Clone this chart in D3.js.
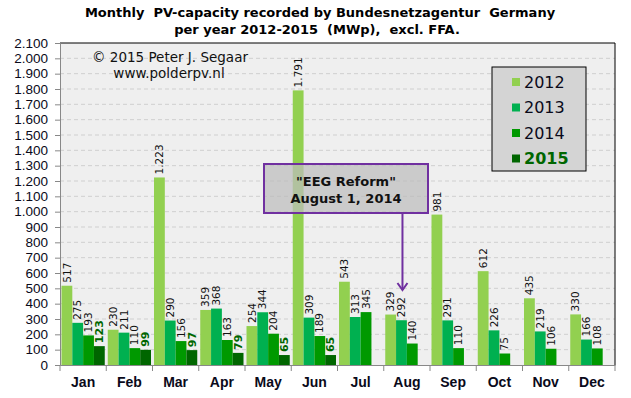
<!DOCTYPE html>
<html>
<head>
<meta charset="utf-8">
<script src="https://cdn.jsdelivr.net/npm/d3@7"></script>
<style>
  body { margin: 0; background: #fff; }
  svg { font-family: "DejaVu Sans", Verdana, sans-serif; }
  .pre { white-space: pre; }
</style>
</head>
<body>
<svg width="631" height="398"></svg>
<script>
// Data
const months = ["Jan", "Feb", "Mar", "Apr", "May", "Jun", "Jul", "Aug", "Sep", "Oct", "Nov", "Dec"]
const years = ["2012", "2013", "2014", "2015"]
const v2012 = [517, 230, 1223, 359, 254, 1791, 543, 329, 981, 612, 435, 330]
const v2013 = [275, 211, 290, 368, 344, 309, 313, 292, 291, 226, 219, 166]
const v2014 = [193, 110, 156, 163, 204, 189, 345, 140, 110, 75, 106, 108]
const v2015 = [123, 99, 97, 79, 65, 65]
const yTicks = d3.range(0, 2101, 100)

const colors = {"2012": "#92d050", "2013": "#00b050", "2014": "#009900", "2015": "#006600"}
const series = {"2012": v2012, "2013": v2013, "2014": v2014, "2015": v2015}

const nl = d3.formatLocale({decimal: ",", thousands: ".", grouping: [3], currency: ["€", ""]})
const fmt = nl.format(",d")

const margin = {left: 60, right: 16, top: 43, bottom: 33}
const W = 631, H = 398
const w = W - margin.left - margin.right
const h = H - margin.top - margin.bottom

const svg = d3.select("svg")

// Title
svg.append("text").attr("class", "pre")
  .attr("x", 320).attr("y", 17)
  .attr("text-anchor", "middle")
  .style("font-weight", "bold").style("font-size", "13px")
  .text("Monthly  PV-capacity recorded by Bundesnetzagentur  Germany")
svg.append("text").attr("class", "pre")
  .attr("x", 317).attr("y", 34)
  .attr("text-anchor", "middle")
  .style("font-weight", "bold").style("font-size", "13px")
  .text("per year 2012-2015  (MWp),  excl. FFA.")

const g = svg.append("g").attr("transform", `translate(${margin.left},${margin.top})`)

const x = d3.scaleBand().domain(months).range([0, w]).paddingInner(0).paddingOuter(0)
const x1 = d3.scaleBand().domain(years).range([1.5, x.bandwidth() - 1.5]).padding(0)
const y = d3.scaleLinear().domain([0, 2100]).range([h, 0])

// Plot background
g.append("rect").attr("width", w).attr("height", h).attr("fill", "#efefef")

// Gridlines
g.selectAll(".grid").data(yTicks.slice(1, -1)).enter().append("line")
  .attr("x1", 0).attr("x2", w)
  .attr("y1", d => y(d)).attr("y2", d => y(d))
  .attr("stroke", "#cfcfcf").attr("stroke-dasharray", "4,3")

// Copyright
g.append("text").attr("x", 110).attr("y", 19).attr("text-anchor", "middle")
  .style("font-size", "13.5px").attr("fill", "#111")
  .text("© 2015 Peter J. Segaar")
g.append("text").attr("x", 109).attr("y", 35).attr("text-anchor", "middle")
  .style("font-size", "13.5px").attr("fill", "#111")
  .text("www.polderpv.nl")

// Bars
const rows = []
years.forEach(yr => {
  series[yr].forEach((v, i) => rows.push({year: yr, month: months[i], value: v}))
})

g.selectAll(".bar").data(rows).enter().append("rect")
  .attr("x", d => x(d.month) + x1(d.year))
  .attr("width", x1.bandwidth())
  .attr("y", d => y(d.value))
  .attr("height", d => h - y(d.value))
  .attr("fill", d => colors[d.year])

// Bar labels
g.selectAll(".lbl").data(rows).enter().append("text")
  .attr("transform", d => `translate(${x(d.month) + x1(d.year) + x1.bandwidth() / 2},${y(d.value) - 3}) rotate(-90)`)
  .attr("dy", "0.35em")
  .attr("text-anchor", "start")
  .style("font-size", d => d.year === "2015" ? "11px" : "10.5px")
  .style("font-weight", d => d.year === "2015" ? "bold" : "normal")
  .attr("fill", d => d.year === "2015" ? "#006600" : "#111")
  .text(d => fmt(d.value))

// Frame top/right
g.append("path").attr("d", `M0,0H${w}V${h}`).attr("fill", "none").attr("stroke", "#000")

// Axes
const yAxis = g.append("g").call(d3.axisLeft(y).tickValues(yTicks).tickFormat(fmt).tickSize(5))
yAxis.select(".domain").attr("stroke", "#888")
yAxis.selectAll(".tick line").attr("stroke", "#888")
yAxis.selectAll("text").style("font-size", "13.5px").attr("fill", "#0a0a1a").attr("x", -12)

const xAxis = g.append("g").attr("transform", `translate(0,${h})`)
  .call(d3.axisBottom(x).tickSize(0).tickPadding(12))
xAxis.select(".domain").attr("stroke", "#888")
xAxis.selectAll("text").style("font-size", "14px").style("font-weight", "bold").attr("fill", "#0a0a1a")
xAxis.selectAll(".sep").data(d3.range(0, months.length + 1)).enter().append("line")
  .attr("x1", i => i * x.step()).attr("x2", i => i * x.step())
  .attr("y1", 0).attr("y2", 6).attr("stroke", "#888")

// Legend
const leg = g.append("g").attr("transform", "translate(432,24)")
leg.append("rect").attr("width", 94).attr("height", 104)
  .attr("fill", "#d4d4d4").attr("stroke", "#000")
years.forEach((yr, i) => {
  const row = leg.append("g").attr("transform", `translate(20,${15 + i * 25.5})`)
  row.append("rect").attr("y", -4).attr("width", 8).attr("height", 8).attr("fill", colors[yr])
  row.append("text").attr("x", 12).attr("dy", "0.36em")
    .style("font-size", "16px")
    .style("font-weight", yr === "2015" ? "bold" : "normal")
    .attr("fill", yr === "2015" ? "#006600" : "#0a0a1a")
    .text(yr)
})

// Annotation
const ax = x("Aug") + x1("2013") + x1.bandwidth() / 2 + 1
const ann = g.append("g")
ann.append("rect").attr("x", 204).attr("y", 121).attr("width", 164).attr("height", 49)
  .attr("fill", "#bdbdbd").attr("fill-opacity", 0.72)
  .attr("stroke", "#7030a0").attr("stroke-width", 2)
ann.append("text").attr("x", 286).attr("y", 143).attr("text-anchor", "middle")
  .style("font-size", "13px").style("font-weight", "bold").attr("fill", "#111")
  .text("\"EEG Reform\"")
ann.append("text").attr("x", 286).attr("y", 160).attr("text-anchor", "middle")
  .style("font-size", "13px").style("font-weight", "bold").attr("fill", "#111")
  .text("August 1, 2014")
ann.append("line").attr("x1", ax).attr("x2", ax).attr("y1", 170).attr("y2", 247)
  .attr("stroke", "#7030a0").attr("stroke-width", 2)
ann.append("path").attr("d", `M${ax - 5},${240}L${ax},${247}L${ax + 5},${240}`)
  .attr("fill", "none").attr("stroke", "#7030a0").attr("stroke-width", 2)
</script>
</body>
</html>
